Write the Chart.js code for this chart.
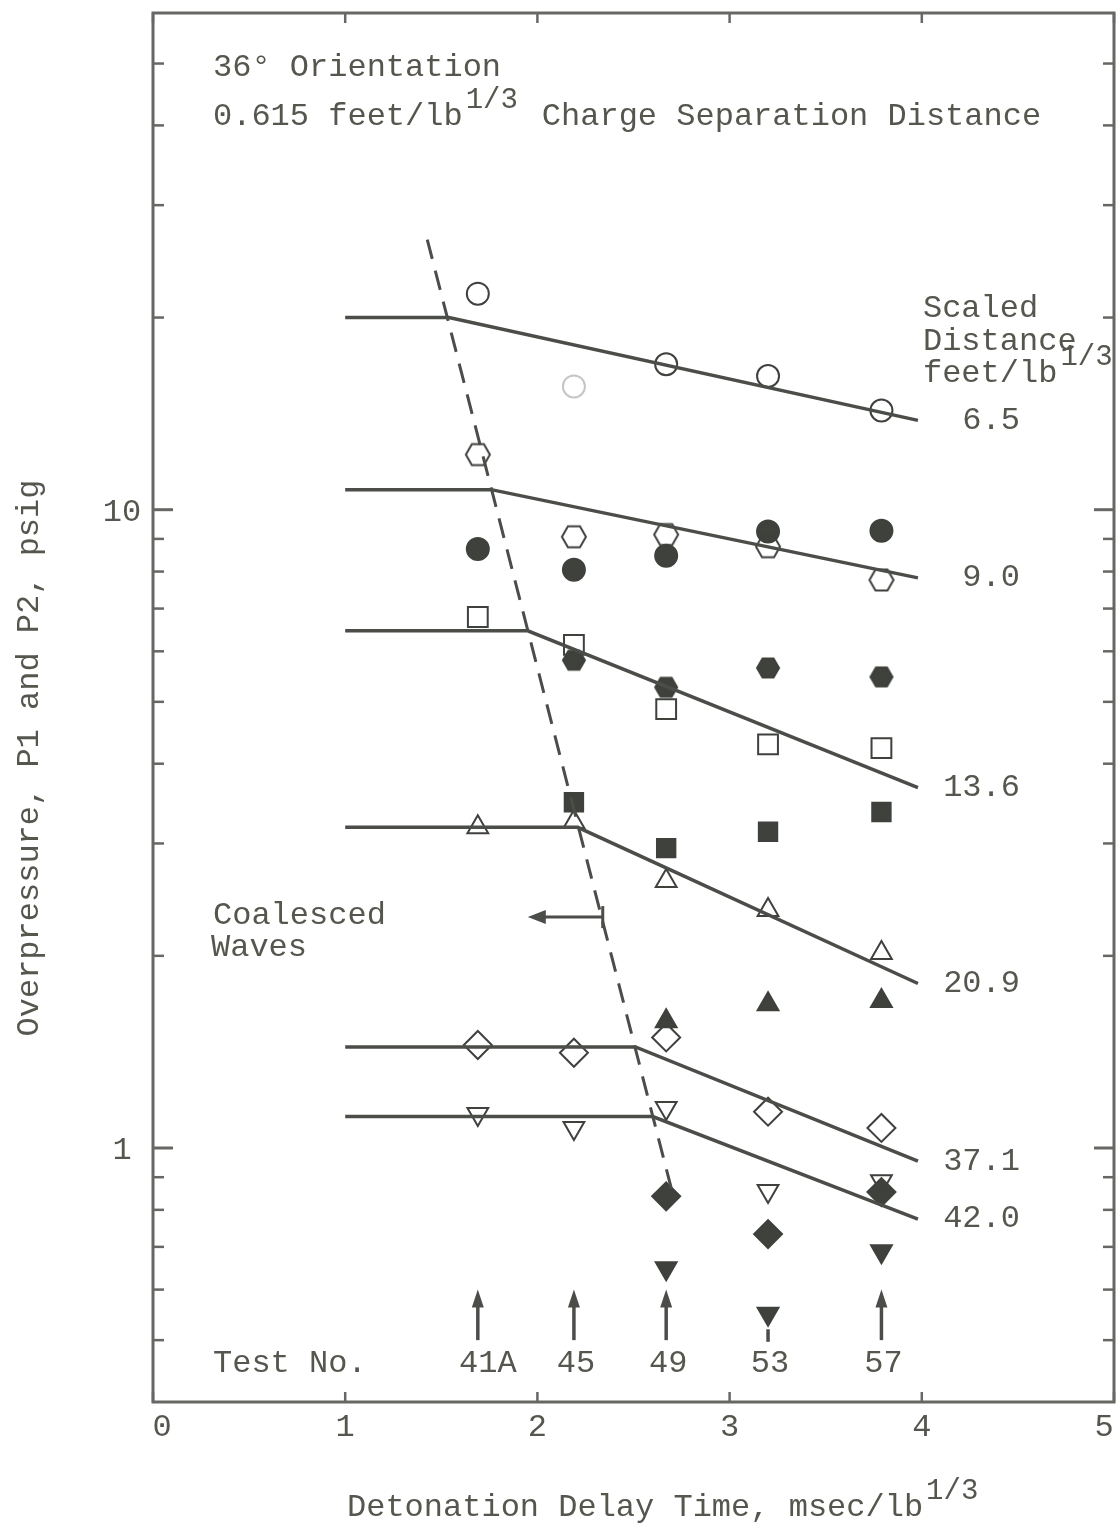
<!DOCTYPE html>
<html>
<head>
<meta charset="utf-8">
<title>Overpressure vs Detonation Delay Time</title>
<script src="https://cdn.jsdelivr.net/npm/chart.js@4.4.1/dist/chart.umd.min.js"></script>
<style>
  html, body { margin: 0; padding: 0; background: #fff; }
  #wrap { width: 1120px; height: 1530px; }
</style>
</head>
<body>
<div id="wrap"><canvas id="grafico" width="1120" height="1530"></canvas></div>
<script>
// tests and their scaled delay time, msec/lb^1/3
var testNo = ['41A', '45', '49', '53', '57'];
var delayTime = [1.69, 2.19, 2.67, 3.20, 3.79];

// overpressure readings, psig (null = no reading)
var openCircle   = [21.8, 15.6, 16.9, 16.2, 14.3];
var openHexagon  = [12.2, 9.07, 9.14, 8.75, 7.76];
var filledCircle = [8.68, 8.05, 8.47, 9.24, 9.27];
var openSquare   = [6.79, 6.14, 4.87, 4.29, 4.23];
var filledHexagon = [null, 5.81, 5.27, 5.65, 5.47];
var openTriangle = [3.18, 3.24, 2.62, 2.36, 2.02];
var filledSquare = [null, 3.48, 2.95, 3.13, 3.36];
var filledTriangle = [null, null, 1.58, 1.68, 1.70];
var openDiamond  = [1.45, 1.41, 1.49, 1.14, 1.075];
var openInvTriangle = [1.13, 1.075, 1.155, 0.856, 0.887];
var filledDiamond = [null, null, 0.84, 0.733, 0.853];
var filledInvTriangle = [null, null, 0.648, 0.55, 0.689];

// fitted curves, one per scaled distance (feet/lb^1/3)
var scaledDistance = ['6.5', '9.0', '13.6', '20.9', '37.1', '42.0'];
var plateauP = [20.0, 10.75, 6.46, 3.18, 1.44, 1.12];
var breakTime = [1.54, 1.76, 1.95, 2.21, 2.51, 2.60];
var endP = [13.8, 7.82, 3.67, 1.81, 0.954, 0.774];
var curveStart = 1.0;
var curveEnd = 3.98;

// coalesced-wave boundary (dashed)
var boundaryTime = [1.427, 2.703];
var boundaryP = [26.5, 0.85];

// axis ticks
var xTickLabels = [0, 1, 2, 3, 4, 5];
var yTickLabels = [1, 10];
var yMinorTicks = [0.5, 0.6, 0.7, 0.8, 0.9, 2, 3, 4, 5, 6, 7, 8, 9, 20, 30, 40, 50];

var ink = '#55574f';
var frameInk = '#666864';
var markInk = '#3e413c';
var lineInk = '#4b4d49';
var faint = 'rgba(90,92,85,0.35)';
var mono = '"Liberation Mono", "DejaVu Sans Mono", monospace';
var fs = 32;

function pts(vals) {
  var out = [];
  vals.forEach(function(v, i) {
    if (v != null) out.push({ x: delayTime[i], y: v });
  });
  return out;
}

function hexagon(r, filled) {
  var c = document.createElement('canvas');
  var s = Math.ceil(2 * r + 4);
  c.width = s; c.height = s;
  var g = c.getContext('2d');
  g.beginPath();
  for (var k = 0; k < 6; k++) {
    var ang = Math.PI / 3 * k;
    g.lineTo(s / 2 + r * Math.cos(ang), s / 2 + r * Math.sin(ang));
  }
  g.closePath();
  if (filled) { g.fillStyle = markInk; g.fill(); }
  g.strokeStyle = markInk;
  g.lineWidth = 2;
  g.stroke();
  return c;
}

function markers(vals, style, radius, filled, extra) {
  var ds = {
    data: pts(vals),
    showLine: false,
    pointStyle: style,
    pointRadius: radius,
    pointHoverRadius: radius,
    pointBorderWidth: 2,
    pointBorderColor: markInk,
    pointBackgroundColor: filled ? markInk : 'rgba(0,0,0,0)'
  };
  for (var k in extra) ds[k] = extra[k];
  return ds;
}

var datasets = [];

// solid curves
scaledDistance.forEach(function(d, i) {
  datasets.push({
    data: [
      { x: curveStart, y: plateauP[i] },
      { x: breakTime[i], y: plateauP[i] },
      { x: curveEnd, y: endP[i] }
    ],
    showLine: true,
    borderColor: lineInk,
    borderWidth: 3.5,
    pointRadius: 0,
    tension: 0
  });
});

// dashed boundary
datasets.push({
  data: [
    { x: boundaryTime[0], y: boundaryP[0] },
    { x: boundaryTime[1], y: boundaryP[1] }
  ],
  showLine: true,
  borderColor: lineInk,
  borderWidth: 3,
  borderDash: [20, 12],
  pointRadius: 0
});

datasets.push(markers(openCircle, 'circle', 11, false, {
  pointBorderColor: [markInk, faint, markInk, markInk, markInk]
}));
datasets.push(markers(openHexagon, hexagon(12, false), 12, false));
datasets.push(markers(filledCircle, 'circle', 11, true));
datasets.push(markers(openSquare, 'rect', 14, false));
datasets.push(markers(filledHexagon, hexagon(11, true), 11, true));
datasets.push(markers(openTriangle, 'triangle', 12, false));
datasets.push(markers(filledSquare, 'rect', 13, true));
datasets.push(markers(filledTriangle, 'triangle', 12, true));
datasets.push(markers(openDiamond, 'rectRot', 14, false));
datasets.push(markers(openInvTriangle, 'triangle', 12, false, { pointRotation: 180 }));
datasets.push(markers(filledDiamond, 'rectRot', 14, true));
datasets.push(markers(filledInvTriangle, 'triangle', 12, true, { pointRotation: 180 }));

function txt(ctx, s, x, y, size, align) {
  ctx.font = size + 'px ' + mono;
  ctx.textAlign = align || 'left';
  ctx.textBaseline = 'middle';
  ctx.fillText(s, x, y);
  return ctx.measureText(s).width;
}

// text followed by a raised "1/3"
function txtCubeRoot(ctx, s, x, y, size) {
  var w = txt(ctx, s, x, y, size, 'left');
  var w2 = txt(ctx, '1/3', x + w + 3, y - 17, size - 3, 'left');
  return w + 3 + w2;
}

function seg(ctx, x1, y1, x2, y2) {
  ctx.beginPath();
  ctx.moveTo(x1, y1);
  ctx.lineTo(x2, y2);
  ctx.stroke();
}

var decorPlugin = {
  id: 'decor',
  afterDraw: function(chart) {
    var ctx = chart.ctx, a = chart.chartArea;
    var xs = chart.scales.x, ys = chart.scales.y;
    ctx.save();

    // frame and inward ticks on all sides
    ctx.strokeStyle = frameInk;
    ctx.lineWidth = 3;
    ctx.strokeRect(a.left, a.top, a.right - a.left, a.bottom - a.top);
    yTickLabels.forEach(function(v) {
      var py = ys.getPixelForValue(v);
      seg(ctx, a.left, py, a.left + 20, py);
      seg(ctx, a.right, py, a.right - 20, py);
    });
    ctx.lineWidth = 2.5;
    yMinorTicks.forEach(function(v) {
      var py = ys.getPixelForValue(v);
      seg(ctx, a.left, py, a.left + 11, py);
      seg(ctx, a.right, py, a.right - 11, py);
    });
    xTickLabels.forEach(function(v) {
      var px = xs.getPixelForValue(v);
      seg(ctx, px, a.bottom, px, a.bottom - 10);
      seg(ctx, px, a.top, px, a.top + 10);
    });

    ctx.fillStyle = ink;

    // tick labels
    xTickLabels.forEach(function(v) {
      txt(ctx, String(v), xs.getPixelForValue(v) + (v === 0 ? 9 : 0) - (v === 5 ? 10 : 0), a.bottom + 26, fs, 'center');
    });
    yTickLabels.forEach(function(v) {
      txt(ctx, String(v), a.left - 31, ys.getPixelForValue(v) + 3, fs, 'center');
    });

    // axis titles
    txtCubeRoot(ctx, 'Detonation Delay Time, msec/lb', 347, a.bottom + 106, fs);
    ctx.save();
    ctx.translate(30, 758);
    ctx.rotate(-Math.PI / 2);
    txt(ctx, 'Overpressure, P1 and P2, psig', 0, 0, fs, 'center');
    ctx.restore();

    // heading
    txt(ctx, '36\u00b0 Orientation', 213, 68, fs);
    var hw = txtCubeRoot(ctx, '0.615 feet/lb', 213, 117, fs);
    txt(ctx, 'Charge Separation Distance', 213 + hw + 24, 117, fs);

    // scaled distance labels at the end of each curve
    var endX = xs.getPixelForValue(curveEnd);
    txt(ctx, 'Scaled', endX + 5, 309, fs);
    txt(ctx, 'Distance', endX + 5, 342, fs);
    txtCubeRoot(ctx, 'feet/lb', endX + 5, 374, fs);
    scaledDistance.forEach(function(d, i) {
      txt(ctx, d, endX + 102, ys.getPixelForValue(endP[i]), fs, 'right');
    });

    // coalesced waves note and arrow
    txt(ctx, 'Coalesced', 213, 916, fs);
    txt(ctx, 'Waves', 211, 948, fs);
    var ay = ys.getPixelForValue(2.30);
    var tipX = xs.getPixelForValue(1.95);
    var barX = xs.getPixelForValue(2.34);
    ctx.strokeStyle = lineInk;
    ctx.fillStyle = lineInk;
    ctx.lineWidth = 3;
    seg(ctx, tipX + 10, ay, barX, ay);
    seg(ctx, barX, ay - 11, barX, ay + 11);
    ctx.beginPath();
    ctx.moveTo(tipX, ay);
    ctx.lineTo(tipX + 18, ay - 7);
    ctx.lineTo(tipX + 18, ay + 7);
    ctx.closePath();
    ctx.fill();

    // test arrows and numbers
    delayTime.forEach(function(t, i) {
      var px = xs.getPixelForValue(t);
      ctx.lineWidth = 3.5;
      if (testNo[i] === '53') {
        seg(ctx, px, ys.getPixelForValue(0.497), px, ys.getPixelForValue(0.52));
      } else {
        var top = ys.getPixelForValue(0.6);
        seg(ctx, px, top + 12, px, ys.getPixelForValue(0.5));
        ctx.beginPath();
        ctx.moveTo(px, top);
        ctx.lineTo(px - 6, top + 18);
        ctx.lineTo(px + 6, top + 18);
        ctx.closePath();
        ctx.fill();
      }
    });
    ctx.fillStyle = ink;
    txt(ctx, 'Test No.', 213, ys.getPixelForValue(0.46), fs);
    delayTime.forEach(function(t, i) {
      txt(ctx, testNo[i], xs.getPixelForValue(t) + (i === 0 ? 10 : 2), ys.getPixelForValue(0.46), fs, 'center');
    });

    ctx.restore();
  }
};

new Chart(document.getElementById('grafico'), {
  type: 'scatter',
  data: { datasets: datasets },
  options: {
    responsive: false,
    animation: false,
    layout: { autoPadding: false, padding: { left: 153, top: 13, right: 6, bottom: 128 } },
    plugins: { legend: { display: false }, tooltip: { enabled: false } },
    scales: {
      x: { type: 'linear', min: 0, max: 5, display: false },
      y: { type: 'logarithmic', min: 0.4, max: 60, display: false }
    }
  },
  plugins: [decorPlugin]
});
</script>
</body>
</html>
